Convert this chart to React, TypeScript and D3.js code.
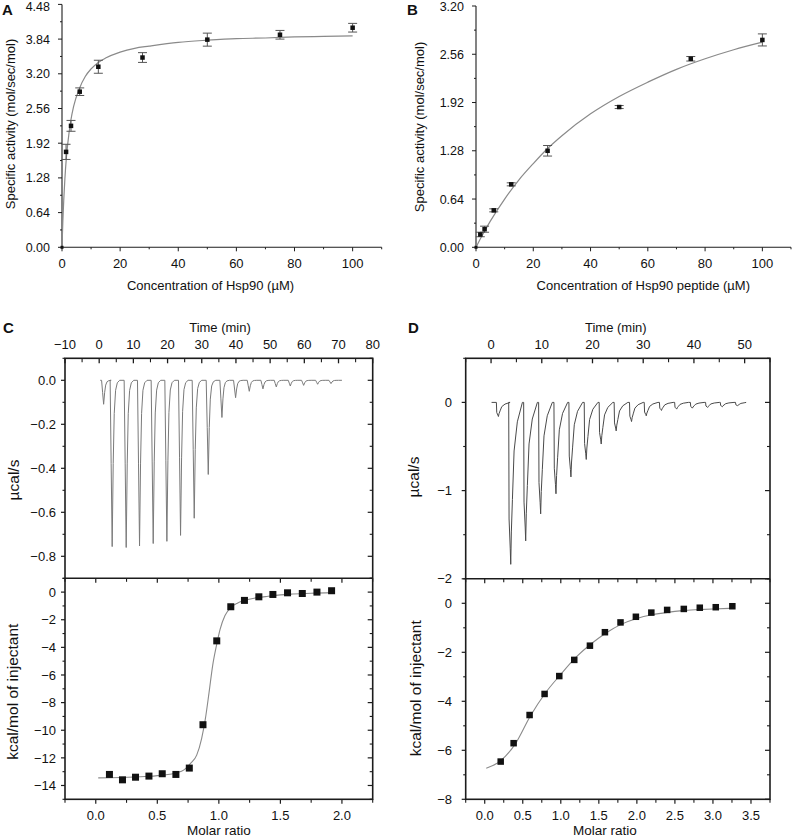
import React, { useEffect, useRef } from 'react';
import * as d3 from 'd3';

// ---------- Panel A data ----------
const aConc = [0, 1.4, 3.1, 6.1, 12.5, 27.7, 50, 75, 100];
const aAct = [0, 1.76, 2.24, 2.87, 3.33, 3.5, 3.83, 3.92, 4.05];
const aErr = [0, 0.14, 0.1, 0.07, 0.12, 0.09, 0.12, 0.08, 0.08];
const aFitX = [0, 0.3, 0.6, 1, 1.5, 2, 3, 4, 6, 8, 10, 12.5, 15, 20, 25, 30, 40, 50, 60, 70, 80, 90, 100];
const aFitY = [0, 0.49, 0.87, 1.27, 1.65, 1.92, 2.33, 2.6, 2.93, 3.15, 3.29, 3.41, 3.49, 3.6, 3.67, 3.71, 3.78, 3.82, 3.85, 3.86, 3.88, 3.89, 3.9];
const aTicksX = [0, 20, 40, 60, 80, 100];
const aTicksY = [0, 0.64, 1.28, 1.92, 2.56, 3.2, 3.84, 4.48];

// ---------- Panel B data ----------
const bConc = [0, 1.5, 3, 6.2, 12.3, 25, 50, 75, 100];
const bAct = [0, 0.17, 0.24, 0.49, 0.835, 1.28, 1.86, 2.5, 2.75];
const bErr = [0, 0.03, 0.04, 0.02, 0.02, 0.07, 0.02, 0.03, 0.08];
const bFitX = [0, 2, 5, 10, 15, 20, 25, 30, 40, 50, 60, 70, 80, 90, 100];
const bFitY = [0, 0.146, 0.347, 0.64, 0.895, 1.11, 1.31, 1.48, 1.77, 2.0, 2.19, 2.36, 2.5, 2.62, 2.72];
const bTicksY = [0, 0.64, 1.28, 1.92, 2.56, 3.2];

// ---------- Panel C data ----------
const cPeakT = [1.3, 3.8, 7.9, 11.8, 15.8, 19.8, 23.8, 27.8, 31.9, 35.9, 39.9, 43.9, 47.9, 51.8, 55.9, 59.8, 63.9, 67.8];
const cPeakDepth = [-0.109, -0.756, -0.76, -0.753, -0.742, -0.732, -0.705, -0.627, -0.428, -0.169, -0.079, -0.05, -0.039, -0.03, -0.026, -0.023, -0.018, -0.015];
const cBaseStart = 0.3;
const cBaseEnd = 71;
const cShapeOffset = [-0.6, -0.3, 0, 0.3, 0.6, 1.0, 1.5, 2.2];
const cShapeFrac = [0, 0.5, 1, 0.5, 0.2, 0.06, 0.015, 0];
const cRatio = [0.111, 0.217, 0.323, 0.432, 0.54, 0.651, 0.76, 0.871, 0.983, 1.097, 1.208, 1.325, 1.439, 1.558, 1.678, 1.797, 1.916];
const cEnth = [-13.2, -13.59, -13.4, -13.32, -13.15, -13.2, -12.74, -9.6, -3.53, -1.06, -0.6, -0.34, -0.17, -0.05, -0.1, 0.0, 0.1];
const cFitX = [0.02, 0.2, 0.4, 0.55, 0.65, 0.72, 0.77, 0.82, 0.86, 0.89, 0.92, 0.95, 0.98, 1.01, 1.05, 1.1, 1.15, 1.2, 1.3, 1.4, 1.5, 1.6, 1.75, 1.92];
const cFitY = [-13.45, -13.42, -13.35, -13.25, -13.1, -12.85, -12.4, -11.8, -10.6, -9.2, -7.3, -5.3, -3.9, -2.7, -1.7, -1.1, -0.8, -0.62, -0.42, -0.3, -0.2, -0.14, -0.08, -0.04];
const cTimeTicks = [-10, 0, 10, 20, 30, 40, 50, 60, 70, 80];
const cHeatTicks = [0, -0.2, -0.4, -0.6, -0.8];
const cEnthTicks = [0, -2, -4, -6, -8, -10, -12, -14];
const cRatioTicks = [0, 0.5, 1, 1.5, 2];

// ---------- Panel D data ----------
const dPeakT = [1.45, 3.88, 6.83, 9.78, 12.8, 15.75, 18.77, 21.72, 24.67, 27.7, 30.6, 33.6, 36.6, 39.7, 42.7, 45.6, 48.6];
const dPeakDepth = [-0.16, -1.836, -1.57, -1.264, -1.036, -0.845, -0.647, -0.472, -0.323, -0.217, -0.152, -0.091, -0.076, -0.065, -0.057, -0.049, -0.038];
const dBaseStart = 0.1;
const dBaseEnd = 50.3;
const dShapeOffset = [-0.4, -0.33, -0.1, 0, 0.12, 0.33, 0.66, 1.3, 2.3];
const dShapeFrac = [0, 0.72, 0.9, 1, 0.8, 0.6, 0.3, 0.12, 0];
const dRatio = [0.21, 0.38, 0.59, 0.787, 0.98, 1.177, 1.383, 1.58, 1.785, 1.987, 2.19, 2.398, 2.617, 2.827, 3.037, 3.255];
const dEnth = [-6.46, -5.71, -4.56, -3.7, -2.97, -2.31, -1.73, -1.18, -0.78, -0.55, -0.38, -0.27, -0.23, -0.18, -0.16, -0.12];
const dFitX = [0.02, 0.2, 0.4, 0.6, 0.8, 1.0, 1.2, 1.4, 1.6, 1.8, 2.0, 2.2, 2.4, 2.6, 2.8, 3.0, 3.27];
const dFitY = [-6.73, -6.45, -5.75, -4.6, -3.65, -2.9, -2.2, -1.65, -1.2, -0.85, -0.62, -0.47, -0.37, -0.3, -0.26, -0.23, -0.2];
const dTimeTicks = [0, 10, 20, 30, 40, 50];
const dHeatTicks = [0, -1, -2];
const dEnthTicks = [0, -2, -4, -6, -8];
const dRatioTicks = [0, 0.5, 1, 1.5, 2, 2.5, 3, 3.5];

const FONT = '"Liberation Sans", Arial, Helvetica, sans-serif';
const AX = '#1c1c1c';

type Side = 'left' | 'right' | 'top' | 'bottom';

function minorsOf(major: number[], lo: number, hi: number): number[] {
  const sorted = [...major].sort((a, b) => a - b);
  const step = sorted[1] - sorted[0];
  const out: number[] = [];
  const first = sorted[0] - step / 2;
  for (let k = 0; k < 60; k++) {
    const v = first + k * step;
    if (v > hi + 1e-9) break;
    if (v >= lo - 1e-9) out.push(+v.toFixed(6));
  }
  return out;
}

function fillMajors(major: number[], lo: number, hi: number): number[] {
  const sorted = [...major].sort((a, b) => a - b);
  const step = sorted[1] - sorted[0];
  const out: number[] = [];
  let v = sorted[0];
  while (v - step >= lo - 1e-9) v -= step;
  for (; v <= hi + 1e-9; v += step) out.push(+v.toFixed(6));
  return out;
}

function drawTicks(g: any, scale: any, vals: number[], side: Side, pos: number, len: number, w = 1) {
  vals.forEach((v) => {
    const p = scale(v);
    let x1 = 0, y1 = 0, x2 = 0, y2 = 0;
    if (side === 'left') { x1 = pos; x2 = pos - len; y1 = y2 = p; }
    else if (side === 'right') { x1 = pos; x2 = pos + len; y1 = y2 = p; }
    else if (side === 'top') { y1 = pos; y2 = pos - len; x1 = x2 = p; }
    else { y1 = pos; y2 = pos + len; x1 = x2 = p; }
    g.append('line').attr('x1', x1).attr('y1', y1).attr('x2', x2).attr('y2', y2)
      .attr('stroke', AX).attr('stroke-width', w);
  });
}

function drawLabels(g: any, scale: any, vals: number[], fmt: (v: number) => string, side: Side, pos: number, size: number) {
  vals.forEach((v) => {
    const p = scale(v);
    const t = g.append('text').text(fmt(v)).attr('font-family', FONT).attr('font-size', size).attr('fill', '#111');
    if (side === 'left') t.attr('x', pos).attr('y', Math.max(p, 6.2)).attr('dy', '0.36em').attr('text-anchor', 'end');
    else t.attr('x', p).attr('y', pos).attr('text-anchor', 'middle');
  });
}

function text(g: any, s: string, x: number, y: number, size: number, opts: { rotate?: boolean; bold?: boolean; anchor?: string } = {}) {
  const t = g.append('text').text(s).attr('font-family', FONT).attr('font-size', size).attr('fill', '#111')
    .attr('text-anchor', opts.anchor || 'middle');
  if (opts.bold) t.attr('font-weight', 'bold');
  if (opts.rotate) t.attr('transform', `translate(${x},${y}) rotate(-90)`);
  else t.attr('x', x).attr('y', y);
  return t;
}

function buildTrace(peakT: number[], peakD: number[], offs: number[], fracs: number[], start: number, end: number): [number, number][] {
  const pts: [number, number][] = [[start, 0]];
  peakT.forEach((t0, i) => {
    offs.forEach((o, k) => {
      const t = t0 + o;
      if (t > start && t < end) pts.push([t, peakD[i] * fracs[k]]);
    });
  });
  pts.push([end, 0]);
  return pts;
}

function kineticPanel(svg: any, o: any) {
  const g = svg.append('g');
  const x = d3.scaleLinear().domain([0, 110]).range([o.x0, o.x1]);
  const y = d3.scaleLinear().domain([0, o.yMax]).range([o.y0, o.y1]);
  g.append('line').attr('x1', o.x0).attr('x2', o.x1).attr('y1', o.y0).attr('y2', o.y0).attr('stroke', AX).attr('stroke-width', 1.1);
  g.append('line').attr('x1', o.x0).attr('x2', o.x0).attr('y1', o.y0).attr('y2', o.y1).attr('stroke', AX).attr('stroke-width', 1.1);
  drawTicks(g, y, o.yTicks, 'left', o.x0, 4);
  drawTicks(g, y, minorsOf(o.yTicks, 0, o.yMax), 'left', o.x0, 2);
  drawTicks(g, x, aTicksX, 'bottom', o.y0, 4);
  drawTicks(g, x, minorsOf(aTicksX, 0, 110).filter((v) => v > 0), 'bottom', o.y0, 2);
  drawLabels(g, y, o.yTicks, d3.format('.2f'), 'left', o.x0 - 12, 12.5);
  drawLabels(g, x, aTicksX, d3.format('d'), 'bottom', o.y0 + 21, 13);
  const line = d3.line<number>().x((_, i) => x(o.fitX[i])).y((d) => y(d)).curve(d3.curveMonotoneX);
  g.append('path').attr('d', line(o.fitY)).attr('fill', 'none').attr('stroke', '#8a8a8a').attr('stroke-width', 1.2);
  o.xs.forEach((xv: number, i: number) => {
    const e = o.err[i];
    if (e <= 0) return;
    const px = x(xv);
    g.append('line').attr('x1', px).attr('x2', px).attr('y1', y(o.ys[i] - e)).attr('y2', y(o.ys[i] + e)).attr('stroke', '#555').attr('stroke-width', 1);
    [o.ys[i] - e, o.ys[i] + e].forEach((v) => {
      g.append('line').attr('x1', px - 4.5).attr('x2', px + 4.5).attr('y1', y(v)).attr('y2', y(v)).attr('stroke', '#555').attr('stroke-width', 1);
    });
  });
  o.xs.forEach((xv: number, i: number) => {
    const s = i === 0 ? 3 : 4.5;
    g.append('rect').attr('x', x(xv) - s / 2).attr('y', y(o.ys[i]) - s / 2).attr('width', s).attr('height', s).attr('fill', '#111');
  });
  text(g, o.xTitle, o.xTitleX, o.y0 + 43, 13);
  text(g, 'Specific activity (mol/sec/mol)', o.yTitleX, o.yTitleY, 13, { rotate: true });
  text(g, o.letter, o.letterX, 15, 15, { bold: true, anchor: 'start' });
}

function itcPanel(svg: any, o: any) {
  const g = svg.append('g');
  const L = o.left, R = o.right, T = 358.3, M = o.mid, B = 799.3;
  const xt = d3.scaleLinear().domain(o.tDom).range([L, R]);
  const yt = d3.scaleLinear().domain(o.hDom).range([M, T]);
  const xb = d3.scaleLinear().domain(o.rDom).range([L, R]);
  const yb = d3.scaleLinear().domain(o.eDom).range([B, M]);

  const trace = buildTrace(o.peakT, o.peakD, o.shapeOff, o.shapeFrac, o.baseStart, o.baseEnd);
  const tl = d3.line<[number, number]>().x((d) => xt(d[0])).y((d) => yt(d[1]));
  g.append('path').attr('d', tl(trace)).attr('fill', 'none').attr('stroke', o.traceColor).attr('stroke-width', 1).attr('stroke-linejoin', 'round');

  const fl = d3.line<number>().x((_, i) => xb(o.fitX[i])).y((d) => yb(d)).curve(d3.curveMonotoneX);
  g.append('path').attr('d', fl(o.fitY)).attr('fill', 'none').attr('stroke', '#8a8a8a').attr('stroke-width', 1.1);
  o.ratio.forEach((r: number, i: number) => {
    const s = o.mk;
    g.append('rect').attr('x', xb(r) - s / 2).attr('y', yb(o.enth[i]) - s / 2).attr('width', s).attr('height', s).attr('fill', '#111');
  });

  g.append('rect').attr('x', L).attr('y', T).attr('width', R - L).attr('height', B - T).attr('fill', 'none').attr('stroke', AX).attr('stroke-width', 1.6);
  g.append('line').attr('x1', L).attr('x2', R).attr('y1', M).attr('y2', M).attr('stroke', AX).attr('stroke-width', 1.6);

  const tMaj = fillMajors(o.tTicks, o.tDom[0], o.tDom[1]);
  drawTicks(g, xt, tMaj, 'top', T, -5, 1.3);
  drawTicks(g, xt, minorsOf(o.tTicks, o.tDom[0], o.tDom[1]), 'top', T, -4, 1.1);
  drawLabels(g, xt, o.tTicks, d3.format('d'), 'bottom', 349, 13);
  text(g, 'Time (min)', o.timeTitleX, 331.5, 13);

  const hMaj = fillMajors(o.hTicks, o.hDom[0], o.hDom[1]);
  const hMin = minorsOf(o.hTicks, o.hDom[0], o.hDom[1]);
  drawTicks(g, yt, hMaj, 'left', L, 4, 1.2);
  drawTicks(g, yt, hMin, 'left', L, 2.5, 1.1);
  drawTicks(g, yt, hMaj, 'right', R, -5, 1.2);
  drawTicks(g, yt, hMin, 'right', R, -3, 1.1);
  drawLabels(g, yt, o.hTicks, d3.format(o.hFmt), 'left', o.labelRight, 13);

  const eMaj = fillMajors(o.eTicks, o.eDom[0], o.eDom[1]);
  const eMin = minorsOf(o.eTicks, o.eDom[0], o.eDom[1]);
  drawTicks(g, yb, eMaj, 'left', L, 4, 1.2);
  drawTicks(g, yb, eMin, 'left', L, 2.5, 1.1);
  drawTicks(g, yb, eMaj, 'right', R, -5, 1.2);
  drawTicks(g, yb, eMin, 'right', R, -3, 1.1);
  drawLabels(g, yb, o.eTicks, d3.format('d'), 'left', o.labelRight, 13);

  const rMaj = fillMajors(o.rTicks, o.rDom[0], o.rDom[1]);
  const rMin = minorsOf(o.rTicks, o.rDom[0], o.rDom[1]);
  drawTicks(g, xb, rMaj, 'bottom', B, 4.5, 1.2);
  drawTicks(g, xb, rMin, 'bottom', B, 3.5, 1.1);
  drawTicks(g, xb, rMaj, 'top', M, -4.5, 1.2);
  drawTicks(g, xb, rMin, 'top', M, -3.5, 1.1);
  drawLabels(g, xb, o.rTicks, d3.format('.1f'), 'bottom', 820, 13);
  text(g, 'Molar ratio', o.ratioTitleX, 835, 13.5);

  text(g, 'µcal/s', o.yTitleX, o.heatTitleY, 15.5, { rotate: true });
  text(g, 'kcal/mol of injectant', o.yTitleX2, o.enthTitleY, 15.5, { rotate: true });
  text(g, o.letter, o.letterX, 333, 15, { bold: true, anchor: 'start' });
}

export default function App() {
  const ref = useRef<SVGSVGElement>(null);
  useEffect(() => {
    const svg = d3.select(ref.current);
    svg.selectAll('*').remove();
    svg.append('rect').attr('width', 793).attr('height', 837).attr('fill', '#fff');

    kineticPanel(svg, {
      x0: 62, x1: 381.7, y0: 247.3, y1: 4.4, yMax: 4.48, yTicks: aTicksY,
      xs: aConc, ys: aAct, err: aErr, fitX: aFitX, fitY: aFitY,
      xTitle: 'Concentration of Hsp90 (µM)', xTitleX: 210.5,
      yTitleX: 14.5, yTitleY: 124, letter: 'A', letterX: 2,
    });
    kineticPanel(svg, {
      x0: 476, x1: 791, y0: 247.3, y1: 6, yMax: 3.2, yTicks: bTicksY,
      xs: bConc, ys: bAct, err: bErr, fitX: bFitX, fitY: bFitY,
      xTitle: 'Concentration of Hsp90 peptide (µM)', xTitleX: 643.3,
      yTitleX: 424, yTitleY: 127, letter: 'B', letterX: 407,
    });

    itcPanel(svg, {
      left: 65, right: 372.7, mid: 578.3,
      tDom: [-10, 80], hDom: [-0.9, 0.1], rDom: [-0.25, 2.25], eDom: [-15, 1],
      tTicks: cTimeTicks, hTicks: cHeatTicks, eTicks: cEnthTicks, rTicks: cRatioTicks, hFmt: '.1f',
      peakT: cPeakT, peakD: cPeakDepth, shapeOff: cShapeOffset, shapeFrac: cShapeFrac,
      baseStart: cBaseStart, baseEnd: cBaseEnd, traceColor: '#7a7a7a',
      ratio: cRatio, enth: cEnth, fitX: cFitX, fitY: cFitY, mk: 7,
      labelRight: 56, timeTitleX: 220, ratioTitleX: 219,
      yTitleX: 19, heatTitleY: 480, yTitleX2: 18, enthTitleY: 691.7,
      letter: 'C', letterX: 3,
    });

    itcPanel(svg, {
      left: 465.7, right: 770, mid: 578.8,
      tDom: [-5, 55], hDom: [-2, 0.5], rDom: [-0.25, 3.75], eDom: [-8, 1],
      tTicks: dTimeTicks, hTicks: dHeatTicks, eTicks: dEnthTicks, rTicks: dRatioTicks, hFmt: 'd',
      peakT: dPeakT, peakD: dPeakDepth, shapeOff: dShapeOffset, shapeFrac: dShapeFrac,
      baseStart: dBaseStart, baseEnd: dBaseEnd, traceColor: '#4a4a4a',
      ratio: dRatio, enth: dEnth, fitX: dFitX, fitY: dFitY, mk: 6.5,
      labelRight: 452, timeTitleX: 615.8, ratioTitleX: 605,
      yTitleX: 419, heatTitleY: 477, yTitleX2: 421, enthTitleY: 688.3,
      letter: 'D', letterX: 408,
    });
  }, []);
  return (
    <svg ref={ref} width={793} height={837} style={{ position: 'absolute', left: 0, top: 0, display: 'block' }} />
  );
}
